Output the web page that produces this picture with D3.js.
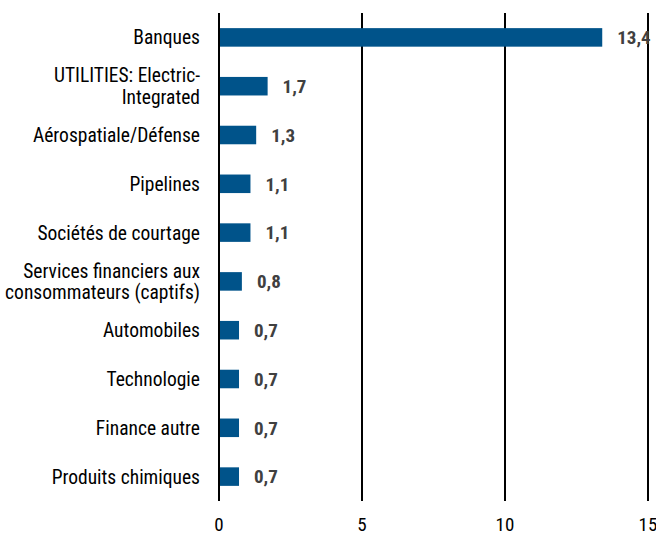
<!DOCTYPE html>
<html><head><meta charset="utf-8">
<script src="https://cdn.jsdelivr.net/npm/d3@7"></script>
<style>
body{margin:0;background:#fff;}
text{font-family:"Liberation Sans Narrow","Arial Narrow","Roboto Condensed","Liberation Sans",sans-serif;}
</style></head>
<body><svg id="c" width="656" height="536"></svg>
<script>
const categories = [
  ["Banques"],
  ["UTILITIES: Electric-","Integrated"],
  ["Aérospatiale/Défense"],
  ["Pipelines"],
  ["Sociétés de courtage"],
  ["Services financiers aux","consommateurs (captifs)"],
  ["Automobiles"],
  ["Technologie"],
  ["Finance autre"],
  ["Produits chimiques"]
];
const values = [13.4, 1.7, 1.3, 1.1, 1.1, 0.8, 0.7, 0.7, 0.7, 0.7];
const tickValues = [0, 5, 10, 15];

const svg = d3.select("#c");
const x = d3.scaleLinear().domain([0, 15]).range([219, 648]);
const y = d3.scaleBand().domain(d3.range(categories.length)).range([13, 501]).paddingInner(0.62).paddingOuter(0.31);

svg.append("g").selectAll("line").data(tickValues).join("line")
  .attr("x1", d => x(d)).attr("x2", d => x(d))
  .attr("y1", 13).attr("y2", 501)
  .attr("stroke", "#000").attr("stroke-width", 2);

svg.append("g").selectAll("rect").data(values).join("rect")
  .attr("x", x(0) + 1).attr("y", (d, i) => y(i))
  .attr("width", d => x(d) - x(0) - 1).attr("height", y.bandwidth())
  .attr("fill", "#00538a");

svg.append("g").selectAll("text").data(values).join("text")
  .attr("x", d => x(d) + 15).attr("y", (d, i) => y(i) + y.bandwidth() / 2)
  .attr("dy", "0.36em")
  .attr("font-size", 19).attr("font-weight", "bold").attr("fill", "#404040")
  .text(d => d.toFixed(1).replace(".", ","));

const cl = svg.append("g").selectAll("text").data(categories).join("text")
  .attr("x", 200).attr("text-anchor", "end")
  .attr("font-size", 19.5).attr("fill", "#000")
  .attr("y", (d, i) => y(i) + y.bandwidth() / 2);
cl.each(function(d) {
  const t = d3.select(this);
  const n = d.length;
  d.forEach((line, k) => {
    t.append("tspan").attr("x", 200)
      .attr("dy", k === 0 ? (0.36 - (n - 1) * 0.55) + "em" : "1.1em")
      .text(line);
  });
});

svg.append("g").selectAll("text").data(tickValues).join("text")
  .attr("x", d => x(d)).attr("y", 531)
  .attr("text-anchor", "middle").attr("font-size", 19).attr("fill", "#000")
  .text(d => d);
</script></body></html>
